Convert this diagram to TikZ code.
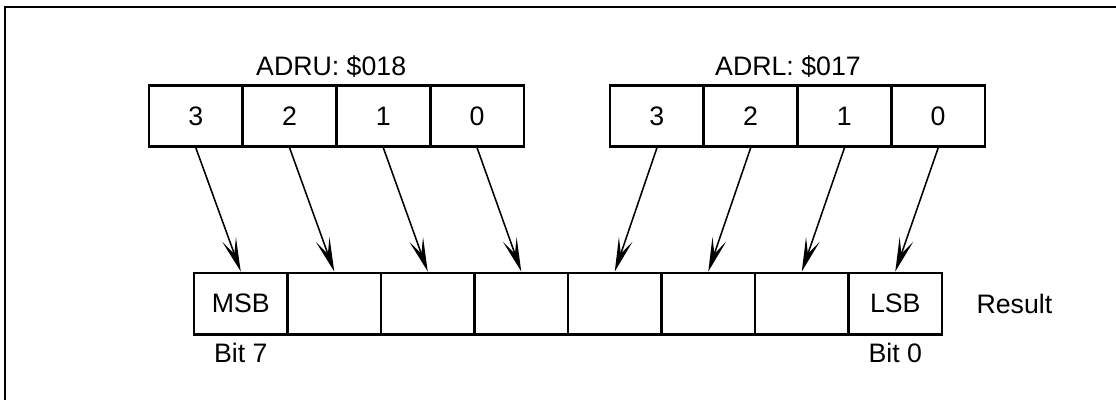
\documentclass[tikz,border=0pt]{standalone}
\usepackage{fontspec}
\setmainfont{Liberation Sans}
\usepackage{tikz}
\usetikzlibrary{arrows.meta,positioning}

\tikzset{
  cell/.style={draw,line width=2pt,minimum width=2.34cm,minimum height=1.53cm,
    inner sep=0pt,font=\fontsize{19}{22}\selectfont},
  lbl/.style={font=\fontsize{19}{22}\selectfont,inner sep=2pt},
  arr/.style={-{Stealth[length=0.85cm,width=0.36cm,inset=0.38cm]},line width=1.1pt}
}

\begin{document}
\begin{tikzpicture}
        \useasboundingbox (0,0) rectangle (27.9,10);
        % Rahmen (nur oben und links sichtbar)
        \draw[line width=1pt] (0.12,0) -- (0.12,9.82) -- (27.9,9.82);

        % obere Register
        \foreach \b [count=\k from 0] in {3,2,1,0}{
          \node[cell] (u\b) at (4.897+2.344*\k,7.1) {\b};
          \node[cell] (l\b) at (16.422+2.344*\k,7.1) {\b};
        }
        \node[lbl,anchor=base] (adru) at (8.28,8.1) {ADRU: \$018};
        \node[lbl,anchor=base] (adrl) at (19.7,8.1) {ADRL: \$017};

        % Ergebnis
        \foreach \b/\t [count=\k from 0] in {7/MSB,6/{},5/{},4/{},3/{},2/{},1/{},0/LSB}{
          \node[cell] (r\b) at (6.019+2.3375*\k,2.41) {\t};
        }
        \node[lbl,below=0.1cm of r7] (bit7) {Bit 7};
        \node[lbl,below=0.1cm of r0] (bit0) {Bit 0};
        \node[lbl,right=0.75cm of r0] (res) {Result};

        % Pfeile
        \foreach \b in {0,...,3}{
          \pgfmathtruncatemacro\hi{\b+4}
          \draw[arr] (u\b.south) -- (r\hi.north);
          \draw[arr] (l\b.south) -- (r\b.north);
        }
\end{tikzpicture}
\end{document}
